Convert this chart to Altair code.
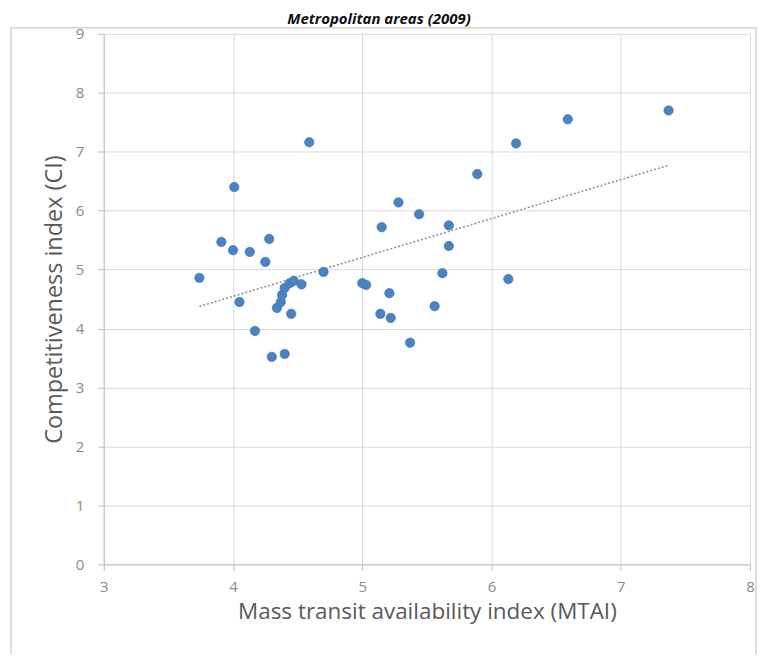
import altair as alt
import pandas as pd

# Data
mtai = [3.74, 3.91, 4.01, 4.00, 4.05, 4.13, 4.17, 4.25, 4.28, 4.30,
        4.40, 4.34, 4.37, 4.38, 4.40, 4.44, 4.47, 4.53, 4.45, 4.59,
        4.70, 5.00, 5.03, 5.15, 5.14, 5.21, 5.22, 5.28, 5.37, 5.44,
        5.56, 5.62, 5.67, 5.67, 5.89, 6.13, 6.19, 6.59, 7.37]
ci = [4.86, 5.47, 6.40, 5.33, 4.45, 5.30, 3.96, 5.13, 5.52, 3.52,
      3.57, 4.35, 4.45, 4.57, 4.69, 4.77, 4.81, 4.75, 4.25, 7.16,
      4.96, 4.77, 4.74, 5.72, 4.25, 4.60, 4.18, 6.14, 3.76, 5.94,
      4.38, 4.94, 5.40, 5.75, 6.62, 4.84, 7.14, 7.55, 7.70]
x_ticks = [3, 4, 5, 6, 7, 8]
y_ticks = [0, 1, 2, 3, 4, 5, 6, 7, 8, 9]
title_text = "Metropolitan areas (2009)"
x_title = "Mass transit availability index (MTAI)"
y_title = "Competitiveness index (CI)"

df = pd.DataFrame({"MTAI": mtai, "CI": ci})

FONT = "Open Sans"
xs = alt.Scale(domain=[3, 8], nice=False, zero=False)
ys = alt.Scale(domain=[0, 9], nice=False, zero=False)

xaxis = alt.Axis(values=x_ticks, title=x_title, format="d", grid=True, gridColor="#d9d9d9",
                 domainColor="#bfbfbf", tickColor="#bfbfbf", tickSize=6,
                 labelFlush=False, labelOverlap=False,
                 labelPadding=9, labelFontSize=15, labelColor="#8a8a8a",
                 labelFont=FONT, titleFont=FONT, titleFontSize=22.5,
                 titleFontWeight="normal", titleColor="#5a5a5a", titlePadding=6)
yaxis = alt.Axis(values=y_ticks, title=y_title, format="d", grid=True, gridColor="#d9d9d9",
                 domainColor="#bfbfbf", tickColor="#bfbfbf", tickSize=6,
                 labelFlush=False, labelOverlap=False,
                 labelPadding=14, labelFontSize=15, labelColor="#8a8a8a",
                 labelFont=FONT, titleFont=FONT, titleFontSize=23.5,
                 titleFontWeight="normal", titleColor="#5a5a5a", titlePadding=9)

base = alt.Chart(df)

border = alt.Chart(pd.DataFrame({"a": [0]})).mark_rect(
    filled=False, stroke="#d4d4d4", strokeWidth=1.5
).encode(x=alt.value(-93), x2=alt.value(654), y=alt.value(-6), y2=alt.value(640))

points = base.mark_circle(size=90, color="#4a83c2", opacity=1,
                          stroke="#3f72ab", strokeWidth=0.6).encode(
    x=alt.X("MTAI:Q", scale=xs, axis=xaxis),
    y=alt.Y("CI:Q", scale=ys, axis=yaxis),
)

trend = base.transform_regression("MTAI", "CI").mark_line(
    color="#8896a8", strokeDash=[2, 2], strokeWidth=1.6
).encode(x=alt.X("MTAI:Q", scale=xs), y=alt.Y("CI:Q", scale=ys))

title = alt.Chart(pd.DataFrame({"a": [0]})).mark_text(
    font=FONT, fontSize=15, fontWeight="bold", fontStyle="italic",
    color="#111111", baseline="alphabetic", align="center"
).encode(x=alt.value(276), y=alt.value(-10), text=alt.value(title_text))

chart = alt.layer(border, trend, points, title).properties(
    width=648, height=532,
    autosize=alt.AutoSizeParams(type="none"),
    padding={"left": 96, "top": 25, "right": 10, "bottom": 90},
    background="white",
).configure_view(stroke=None)

chart.save("out.html", embed_options={"renderer": "svg", "actions": False})
